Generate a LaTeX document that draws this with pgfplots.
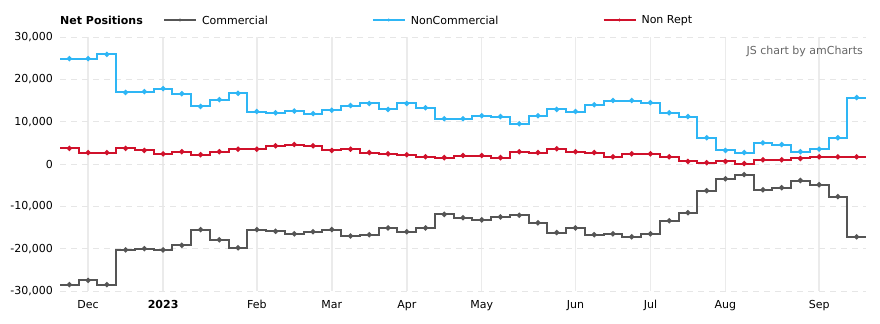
\documentclass[border=0pt]{standalone}
\usepackage{pgfplots}
\usepackage{pgfplotstable}
\pgfplotsset{compat=1.18}
\usepackage{fontspec}
\setmainfont{DejaVu Sans}
\definecolor{comm}{HTML}{555555}
\definecolor{noncomm}{HTML}{2EB6F5}
\definecolor{nonrept}{HTML}{D0112B}
\definecolor{gridc}{HTML}{E6E6E6}
\newcommand{\fs}{\fontsize{11bp}{13bp}\selectfont}
\pgfplotstableread{
x comm noncomm nonrept
-0.5 -28500 24900 3700
0 -28500 24900 3700
1 -27500 24900 2700
2 -28500 25900 2700
3 -20300 16900 3700
4 -20000 17100 3200
5 -20300 17800 2400
6 -19200 16600 2900
7 -15500 13600 2200
8 -17900 15200 2900
9 -19800 16700 3500
10 -15500 12400 3500
11 -15900 12100 4300
12 -16500 12500 4600
13 -16000 11900 4300
14 -15500 12700 3200
15 -17000 13800 3500
16 -16700 14300 2700
17 -15100 12900 2400
18 -16000 14300 2200
19 -15100 13300 1700
20 -11900 10700 1500
21 -12700 10700 2000
22 -13200 11400 2000
23 -12500 11200 1500
24 -12100 9500 2900
25 -13900 11400 2700
26 -16200 12900 3600
27 -15100 12400 2900
28 -16700 14000 2700
29 -16500 15000 1700
30 -17200 15000 2400
31 -16500 14500 2400
32 -13400 12100 1700
33 -11500 11200 600
34 -6300 6200 300
35 -3500 3200 600
36 -2500 2700 100
37 -6100 5000 1000
38 -5600 4600 1000
39 -3900 2900 1300
40 -4900 3500 1700
41 -7700 6200 1700
42 -17200 15700 1700
42.5 -17200 15700 1700
}\datatable
\begin{document}
\begin{tikzpicture}
\path[use as bounding box] (-60bp,-33bp) rectangle (820bp,291bp);
\begin{axis}[
  scale only axis,
  width=806bp, height=254bp,
  at={(0,0)}, anchor=south west,
  clip=false,
  xmin=-0.5, xmax=42.5,
  ymin=-30000, ymax=30000,
  axis line style={draw=none},
  major tick length=0pt,
  xtick={1,5,10,14,18,22,27,31,35,40},
  xticklabels={Dec,\textbf{2023},Feb,Mar,Apr,May,Jun,Jul,Aug,Sep},
  ytick={-30000,-20000,-10000,0,10000,20000,30000},
  scaled y ticks=false,
  /pgf/number format/1000 sep={,},
  /pgf/number format/assume math mode=true,
  yticklabel style={font=\fs, anchor=east, inner sep=0pt, xshift=-7bp},
  xticklabel style={font=\fs, anchor=north, inner sep=0pt, yshift=-9bp},
  xmajorgrids, ymajorgrids,
  x grid style={color=gridc!80, line width=1.5bp},
  y grid style={color=gridc, line width=1bp, dash pattern=on 6bp off 5bp},
  legend columns=-1,
  legend style={draw=none, fill=none, inner sep=0pt, outer sep=0pt,
    at={(axis description cs:0.1278,1.067)}, anchor=west,
    font=\fs,
    nodes={inner sep=0pt, text depth=0pt},
    /tikz/every odd column/.append style={column sep=5bp},
    /tikz/every even column/.append style={column sep=104bp}},
  legend image code/.code={\draw[#1,mark=none] (0bp,0bp) -- (32bp,0bp);
     \fill[#1,draw=none] (16bp,0bp) circle (1.6bp);},
  every axis plot/.append style={line width=2bp, const plot mark mid, mark=*, mark size=1.5bp, mark indices={2,...,44}},
]
\addplot[color=comm, mark options={fill=comm}] table[x=x, y=comm] {\datatable};
\addlegendentry{Commercial}
\addplot[color=noncomm, mark options={fill=noncomm}] table[x=x, y=noncomm] {\datatable};
\addlegendentry{NonCommercial}
\addplot[color=nonrept, mark options={fill=nonrept}] table[x=x, y=nonrept] {\datatable};
\addlegendentry{Non Rept}
\node[anchor=west, inner sep=0pt, font=\fs\bfseries] at (axis description cs:0,1.067) {Net Positions};
\node[anchor=east, inner sep=0pt, font=\fs, text=black!60] at (axis description cs:1,0.945) [xshift=-3bp] {JS chart by amCharts};
\end{axis}
\end{tikzpicture}
\end{document}
